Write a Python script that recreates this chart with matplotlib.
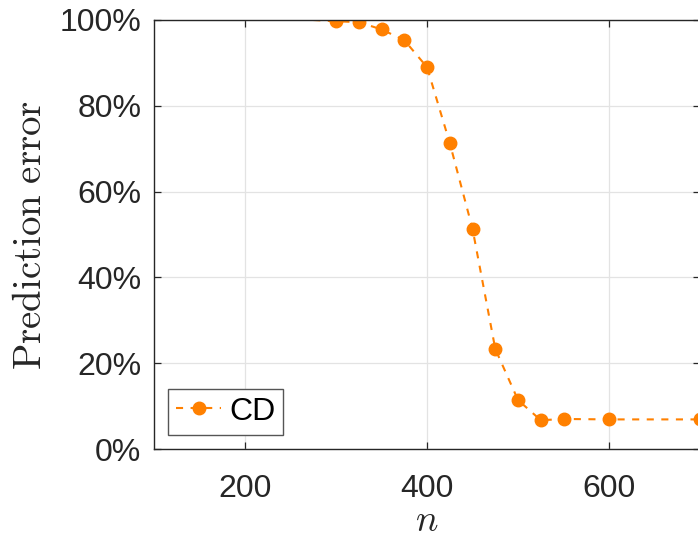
import numpy as np
import matplotlib.pyplot as plt
from matplotlib.ticker import FuncFormatter

# Data
n_vals = [275, 300, 325, 350, 375, 400, 425, 450, 475, 500, 525, 550, 600, 700]
err_pct = [100.0, 99.7, 99.5, 97.8, 95.3, 89.0, 71.3, 51.3, 23.3, 11.4, 6.7, 7.0, 6.9, 6.9]
x_ticks = [200, 400, 600]
y_ticks = [0, 20, 40, 60, 80, 100]

orange = "#FF8000"
dark = "#262626"

plt.rcParams["font.family"] = ["Liberation Sans", "DejaVu Sans"]
plt.rcParams["mathtext.fontset"] = "cm"

fig = plt.figure(figsize=(6.98, 5.36), dpi=100)
ax = fig.add_axes([0.2206, 0.1623, 0.7824, 0.8004])

ax.plot(n_vals, err_pct, "--o", color=orange, lw=1.5, ms=9,
        markevery=list(range(1, len(n_vals))), dashes=(3.4, 3.6), label="CD")

ax.set_xlim(100, 700)
ax.set_ylim(0, 100)
ax.set_xticks(x_ticks)
ax.set_yticks(y_ticks)
ax.yaxis.set_major_formatter(FuncFormatter(lambda v, p: f"{v:.0f}%"))

ax.grid(True, color="#e3e3e3", lw=0.9)
ax.set_axisbelow(True)
for s in ax.spines.values():
    s.set_color(dark)
    s.set_linewidth(1.0)
ax.tick_params(direction="in", length=5, width=0.9, colors=dark,
               labelsize=23, top=True, right=True)
ax.tick_params(axis="x", pad=18)
ax.tick_params(axis="y", pad=9)

ax.set_xlabel(r"$n$", fontsize=27, color=dark, labelpad=-1)
ax.set_ylabel(r"$\mathrm{Prediction\ error}$", fontsize=28, color=dark, labelpad=8)

leg = ax.legend(loc="lower left", fontsize=23, fancybox=False, framealpha=1,
                edgecolor="#555555", borderpad=0.25, handlelength=1.4,
                handletextpad=0.25, borderaxespad=0.45, markerscale=1.0)
leg.get_frame().set_linewidth(1.0)

fig.savefig("out.png", dpi=100)
